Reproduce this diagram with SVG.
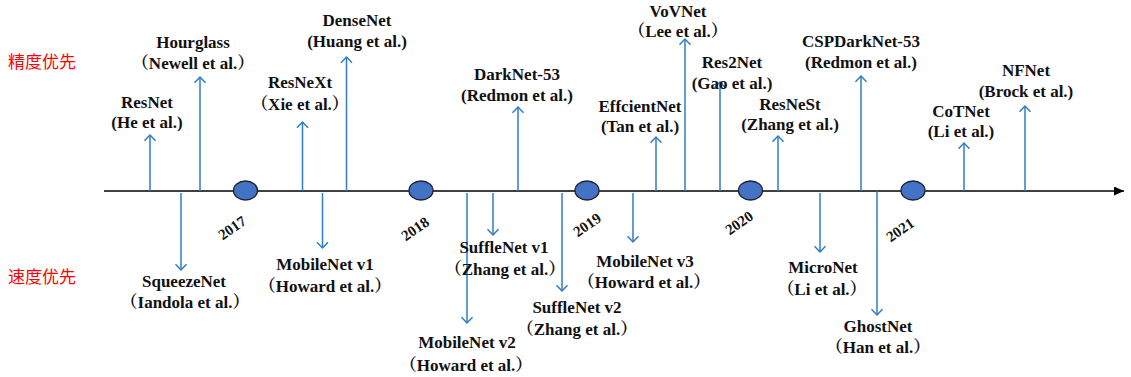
<svg xmlns="http://www.w3.org/2000/svg" width="1131" height="377" viewBox="0 0 1131 377">
<style>
.t{font-family:"Liberation Serif","Times New Roman",Tinos,"DejaVu Serif","Noto Serif CJK SC","Noto Sans CJK SC",serif;font-weight:bold;font-size:17px;fill:#111;text-anchor:middle}
.yr{font-family:"Liberation Serif","Times New Roman",Tinos,"DejaVu Serif",serif;font-weight:bold;font-size:15px;fill:#111;text-anchor:middle}
.cn{font-family:"Noto Sans CJK SC",sans-serif;font-size:17px;fill:#ff0000}
.a{stroke:#2E7DC4;stroke-width:1.5;fill:none;marker-end:url(#chev)}
.yc{fill:#4472C4;stroke:#1c2438;stroke-width:1.3}
</style>
<defs>
<marker id="chev" markerUnits="userSpaceOnUse" viewBox="0 0 7 12" refX="6.3" refY="6" markerWidth="7" markerHeight="12" orient="auto" overflow="visible">
<path d="M0.5,0.5 L6.3,6 L0.5,11.5" fill="none" stroke="#2E7DC4" stroke-width="1.5"/>
</marker>
<marker id="tri" markerUnits="userSpaceOnUse" viewBox="0 0 10 9" refX="10" refY="4.5" markerWidth="10" markerHeight="9" orient="auto">
<path d="M0,0 L10,4.5 L0,9 Z" fill="#000"/>
</marker>
</defs>
<rect width="1131" height="377" fill="#fff"/>
<text class="cn" x="8" y="68">精度优先</text>
<text class="cn" x="8" y="283">速度优先</text>
<g id="connectors">
<line x1="104" y1="191" x2="1124" y2="191" stroke="#000" stroke-width="1.5" marker-end="url(#tri)"/>
<line class="a" x1="150" y1="191" x2="150" y2="135"/>
<line class="a" x1="200" y1="191" x2="200" y2="77"/>
<line class="a" x1="302.5" y1="191" x2="302.5" y2="122"/>
<line class="a" x1="346.5" y1="191" x2="346.5" y2="57"/>
<line class="a" x1="518" y1="191" x2="518" y2="107"/>
<line class="a" x1="656" y1="191" x2="656" y2="137"/>
<line class="a" x1="685" y1="191" x2="685" y2="39"/>
<line class="a" x1="720" y1="191" x2="720" y2="82"/>
<line class="a" x1="778" y1="191" x2="778" y2="136"/>
<line class="a" x1="861" y1="191" x2="861" y2="76"/>
<line class="a" x1="964" y1="191" x2="964" y2="143"/>
<line class="a" x1="1025" y1="191" x2="1025" y2="106"/>
<line class="a" x1="181" y1="193" x2="181" y2="270"/>
<line class="a" x1="322.5" y1="193" x2="322.5" y2="248"/>
<line class="a" x1="467" y1="193" x2="467" y2="323"/>
<line class="a" x1="493" y1="193" x2="493" y2="235"/>
<line class="a" x1="562" y1="193" x2="562" y2="291"/>
<line class="a" x1="633" y1="193" x2="633" y2="242"/>
<line class="a" x1="820" y1="193" x2="820" y2="252"/>
<line class="a" x1="877" y1="191" x2="877" y2="315"/>
</g>
<g id="y2017"><ellipse class="yc" cx="245.5" cy="190.5" rx="12" ry="9.5"/><text class="yr" transform="translate(235,232) rotate(-35)">2017</text></g>
<g id="y2018"><ellipse class="yc" cx="421" cy="190.5" rx="12" ry="9.5"/><text class="yr" transform="translate(418,233) rotate(-35)">2018</text></g>
<g id="y2019"><ellipse class="yc" cx="587" cy="190.5" rx="12" ry="9.5"/><text class="yr" transform="translate(590,229) rotate(-35)">2019</text></g>
<g id="y2020"><ellipse class="yc" cx="750.5" cy="190.5" rx="12" ry="9.5"/><text class="yr" transform="translate(742,227) rotate(-35)">2020</text></g>
<g id="y2021"><ellipse class="yc" cx="913" cy="190.5" rx="12" ry="9.5"/><text class="yr" transform="translate(903,234) rotate(-35)">2021</text></g>
<g id="resnet"><text class="t" x="147" y="108">ResNet</text><text class="t" x="147" y="128">(He et al.)</text></g>
<g id="hourglass"><text class="t" x="193" y="48">Hourglass</text><text class="t" x="193" y="69">（Newell et al.）</text></g>
<g id="resnext"><text class="t" x="300" y="88">ResNeXt</text><text class="t" x="300" y="110">（Xie et al.）</text></g>
<g id="densenet"><text class="t" x="357" y="26">DenseNet</text><text class="t" x="357" y="47">(Huang et al.)</text></g>
<g id="darknet53"><text class="t" x="517" y="80">DarkNet-53</text><text class="t" x="517" y="101">(Redmon et al.)</text></g>
<g id="efficientnet"><text class="t" x="640" y="112">EffcientNet</text><text class="t" x="640" y="132">(Tan et al.)</text></g>
<g id="vovnet"><text class="t" x="678" y="17">VoVNet</text><text class="t" x="678" y="37">（Lee et al.）</text></g>
<g id="res2net"><text class="t" x="732" y="68">Res2Net</text><text class="t" x="732" y="89">(Gao et al.)</text></g>
<g id="resnest"><text class="t" x="790" y="110">ResNeSt</text><text class="t" x="790" y="130">(Zhang et al.)</text></g>
<g id="cspdarknet53"><text class="t" x="861" y="47">CSPDarkNet-53</text><text class="t" x="861" y="68">(Redmon et al.)</text></g>
<g id="cotnet"><text class="t" x="961" y="117">CoTNet</text><text class="t" x="961" y="137">(Li et al.)</text></g>
<g id="nfnet"><text class="t" x="1026" y="76">NFNet</text><text class="t" x="1026" y="97">(Brock et al.)</text></g>
<g id="squeezenet"><text class="t" x="184" y="287">SqueezeNet</text><text class="t" x="185" y="308">（Iandola et al.）</text></g>
<g id="mobilenetv1"><text class="t" x="325" y="270">MobileNet v1</text><text class="t" x="325" y="292">（Howard et al.）</text></g>
<g id="mobilenetv2"><text class="t" x="467" y="348">MobileNet v2</text><text class="t" x="466" y="371">（Howard et al.）</text></g>
<g id="shufflenetv1"><text class="t" x="504" y="253">SuffleNet v1</text><text class="t" x="505" y="275">（Zhang et al.）</text></g>
<g id="shufflenetv2"><text class="t" x="577" y="313">SuffleNet v2</text><text class="t" x="577" y="335">（Zhang et al.）</text></g>
<g id="mobilenetv3"><text class="t" x="645" y="267">MobileNet v3</text><text class="t" x="644" y="288">（Howard et al.）</text></g>
<g id="micronet"><text class="t" x="823" y="273">MicroNet</text><text class="t" x="822" y="295">（Li et al.）</text></g>
<g id="ghostnet"><text class="t" x="878" y="332">GhostNet</text><text class="t" x="878" y="353">（Han et al.）</text></g>
</svg>
